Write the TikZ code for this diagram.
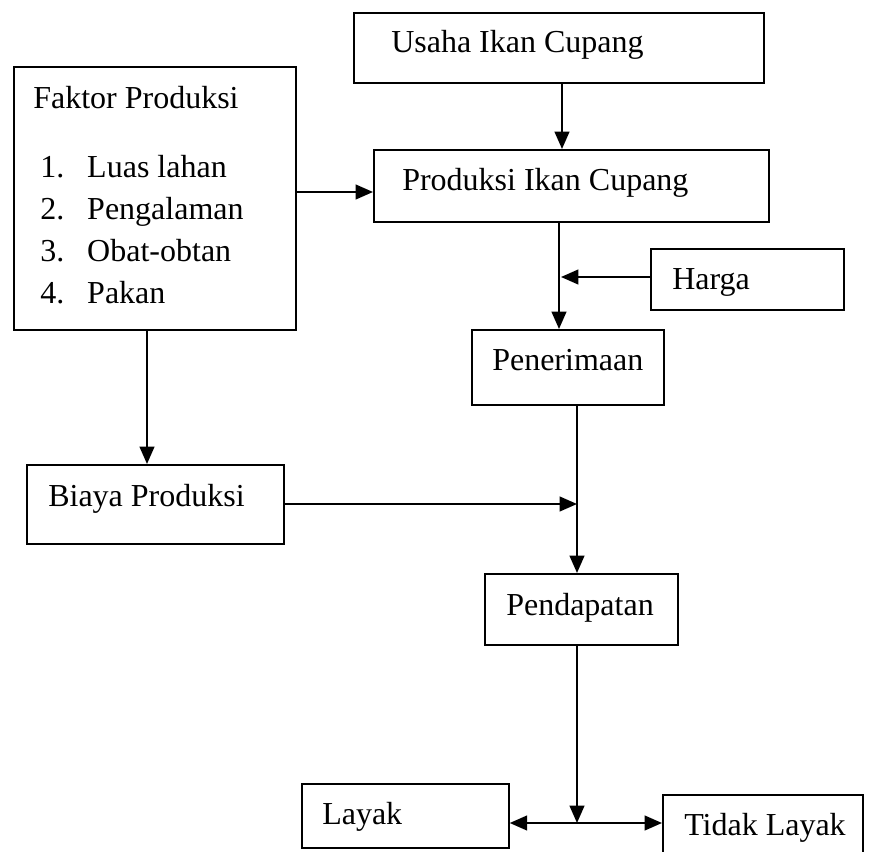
\documentclass[tikz,border=0pt]{standalone}
\usepackage{fontspec}
\setmainfont{Liberation Serif}
\usetikzlibrary{arrows.meta}
\begin{document}
\begin{tikzpicture}[x=0.75pt,y=-0.75pt,
  box/.style={draw=black,line width=1.3pt,inner sep=0pt,anchor=north west},
  lbl/.style={inner sep=0pt,anchor=base west,font=\fontsize{24}{28}\selectfont},
  arr/.style={line width=1.6pt,-{Triangle[length=13pt,width=11pt]}},
  darr/.style={line width=1.6pt,{Triangle[length=13pt,width=11pt]}-{Triangle[length=13pt,width=11pt]}}]
\useasboundingbox (0,0) rectangle (875,852);
% boxes
\node[box,minimum width=410*0.75pt,minimum height=70*0.75pt] (usaha) at (353,12) {};
\node[box,minimum width=282*0.75pt,minimum height=263*0.75pt] (faktor) at (13,66) {};
\node[box,minimum width=395*0.75pt,minimum height=72*0.75pt] (produksi) at (373,149) {};
\node[box,minimum width=193*0.75pt,minimum height=61*0.75pt] (harga) at (650,248) {};
\node[box,minimum width=192*0.75pt,minimum height=75*0.75pt] (penerimaan) at (471,329) {};
\node[box,minimum width=257*0.75pt,minimum height=79*0.75pt] (biaya) at (26,464) {};
\node[box,minimum width=193*0.75pt,minimum height=71*0.75pt] (pendapatan) at (484,573) {};
\node[box,minimum width=207*0.75pt,minimum height=64*0.75pt] (layak) at (301,783) {};
\node[box,minimum width=200*0.75pt,minimum height=90*0.75pt] (tidak) at (662,794) {};
% labels
\node[lbl] (usahaT) at (391,53) {Usaha Ikan Cupang};
\node[lbl] (faktorT) at (33,109) {Faktor Produksi};
\node[lbl] (f1) at (40,178) {\makebox[35.25pt][l]{1.}Luas lahan};
\node[lbl] (f2) at (40,220) {\makebox[35.25pt][l]{2.}Pengalaman};
\node[lbl] (f3) at (40,262) {\makebox[35.25pt][l]{3.}Obat-obtan};
\node[lbl] (f4) at (40,304) {\makebox[35.25pt][l]{4.}Pakan};
\node[lbl] (produksiT) at (402,191) {Produksi Ikan Cupang};
\node[lbl] (hargaT) at (672,290) {Harga};
\node[lbl] (penerimaanT) at (492,370) {Penerimaan};
\node[lbl] (biayaT) at (48,506) {Biaya Produksi};
\node[lbl] (pendapatanT) at (506,615) {Pendapatan};
\node[lbl] (layakT) at (322,824) {Layak};
\node[lbl] (tidakT) at (684,835) {Tidak Layak};
% reference coordinates
\coordinate (xa) at (562,0);
\coordinate (xb) at (559,0);
\coordinate (xc) at (577,0);
\coordinate (xd) at (147,0);
\coordinate (ya) at (0,192);
\coordinate (hj) at (561,277);
\coordinate (bj) at (577,504);
\coordinate (jn) at (577,823);
% connectors
\draw[arr] (usaha.south -| xa) -- (produksi.north -| xa);
\draw[arr] (faktor.east |- ya) -- (produksi.west |- ya);
\draw[arr] (produksi.south -| xb) -- (penerimaan.north -| xb);
\draw[arr] (harga.west |- hj) -- (hj);
\draw[arr] (faktor.south -| xd) -- (biaya.north -| xd);
\draw[arr] (penerimaan.south -| xc) -- (pendapatan.north -| xc);
\draw[arr] (biaya.east |- bj) -- (bj);
\draw[arr] (pendapatan.south -| xc) -- (jn);
\draw[darr] (layak.east |- jn) -- (tidak.west |- jn);
\end{tikzpicture}
\end{document}
